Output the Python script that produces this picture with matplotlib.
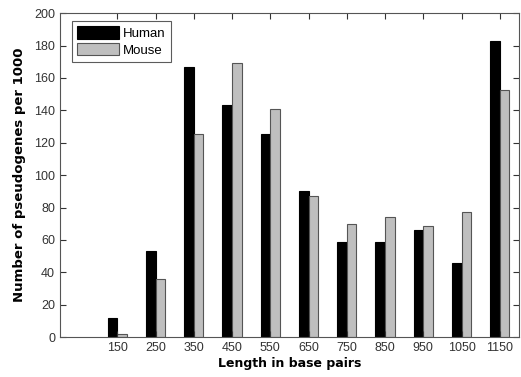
import matplotlib
matplotlib.use("Agg")
import matplotlib.pyplot as plt
import numpy as np

lengths = [150, 250, 350, 450, 550, 650, 750, 850, 950, 1050, 1150]
human = [11.5, 53, 167, 143, 125.5, 90, 59, 59, 66, 45.5, 183]
mouse = [2, 36, 125.5, 169.5, 141, 87, 70, 74, 68.5, 77, 152.5]

plt.rcParams["font.family"] = ["Liberation Sans", "DejaVu Sans"]

fig = plt.figure(figsize=(5.21, 3.77), dpi=100)
ax = fig.add_axes([0.115, 0.106, 0.881, 0.859])

x = np.array(lengths)
w = 25
ax.bar(x - w / 2, human, w, color="black", edgecolor="black", lw=0.8, label="Human")
ax.bar(x + w / 2, mouse, w, color="#bfbfbf", edgecolor="#555555", lw=0.8, label="Mouse")

ax.set_xlim(0, 1200)
ax.set_ylim(0, 200)
ax.set_xticks(lengths)
ax.set_yticks(range(0, 201, 20))
ax.tick_params(direction="in", length=4, top=True, right=True, labelsize=9,
               colors="#333333", width=0.8)
for s in ax.spines.values():
    s.set_color("#555555")
    s.set_linewidth(0.8)

ax.set_xlabel("Length in base pairs", fontsize=9, fontweight="bold",
              family="DejaVu Sans", labelpad=2)
ax.set_ylabel("Number of pseudogenes per 1000", fontsize=9.5, fontweight="bold",
              family="DejaVu Sans", labelpad=6)

leg = ax.legend(loc="upper left", bbox_to_anchor=(0.026, 0.976), fontsize=9.5,
                handlelength=3.2, handleheight=1.1, fancybox=False,
                borderpad=0.4, labelspacing=0.2, handletextpad=0.3,
                borderaxespad=0)
leg.get_frame().set_edgecolor("#333333")
leg.get_frame().set_linewidth(0.8)

fig.savefig("out.png", dpi=100)
